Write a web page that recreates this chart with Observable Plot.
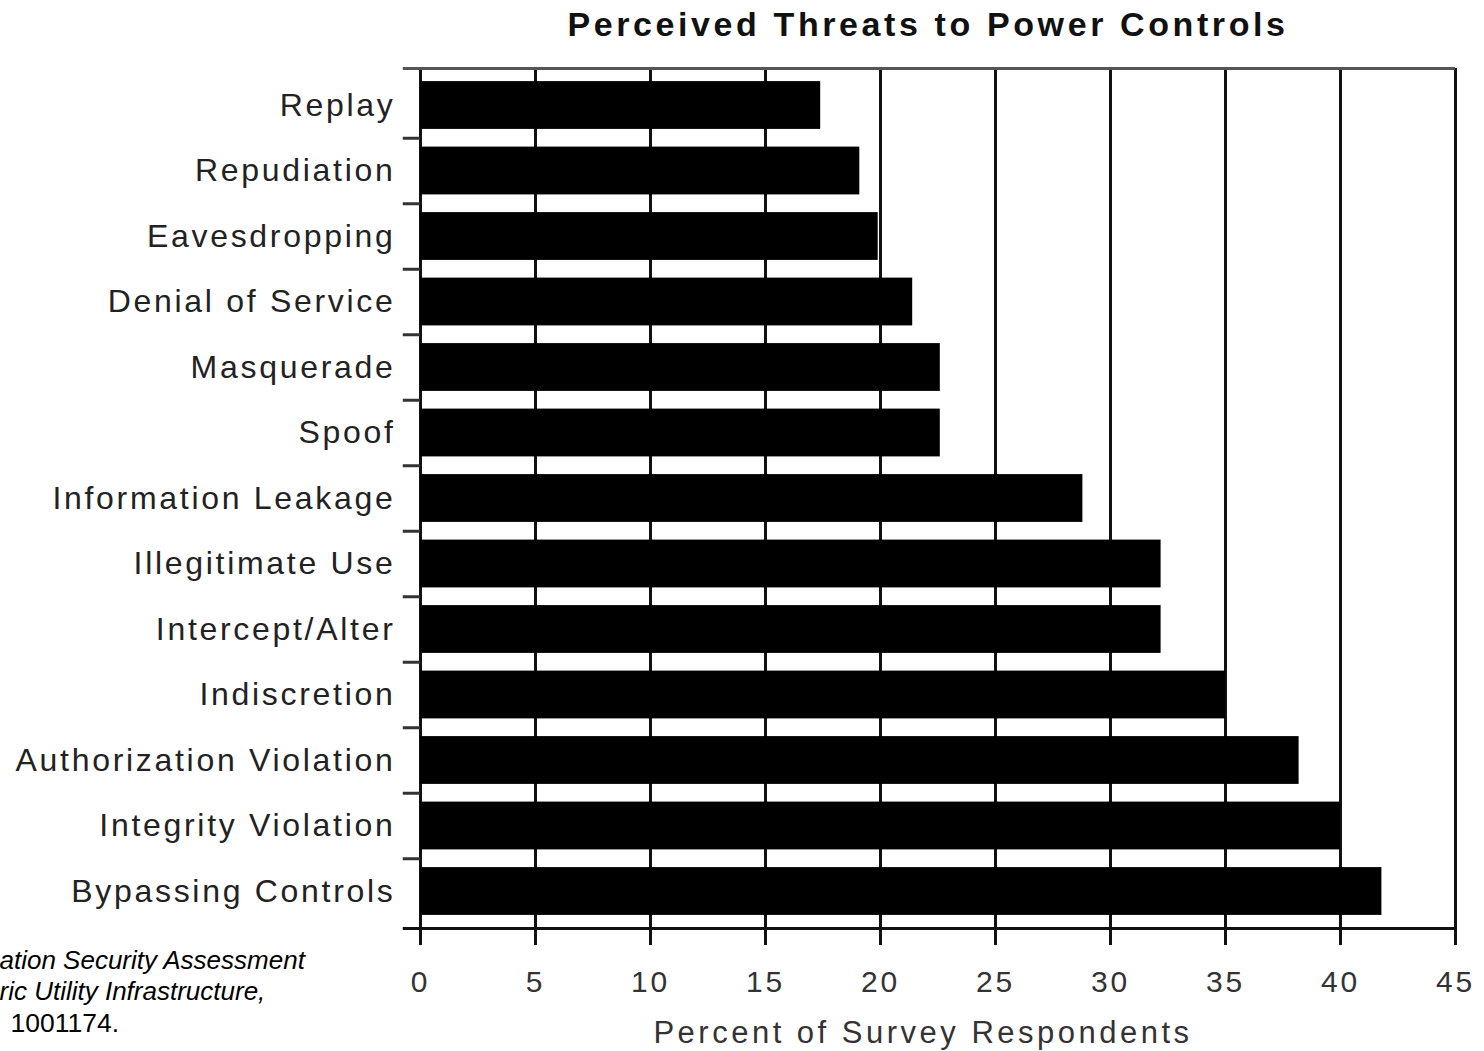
<!DOCTYPE html>
<html><head><meta charset="utf-8">
<script src="https://cdn.jsdelivr.net/npm/d3@7"></script>
<script src="https://cdn.jsdelivr.net/npm/@observablehq/plot@0.6"></script>
<style>
body{margin:0;background:#fff;}
#chart svg text{letter-spacing:2.7px;}
</style></head><body><div id="chart"></div>
<script>
const categories = ["Replay","Repudiation","Eavesdropping","Denial of Service","Masquerade","Spoof","Information Leakage","Illegitimate Use","Intercept/Alter","Indiscretion","Authorization Violation","Integrity Violation","Bypassing Controls"];
const values = [17.4, 19.1, 19.9, 21.4, 22.6, 22.6, 28.8, 32.2, 32.2, 35.0, 38.2, 40.0, 41.8];
const xTicks = [0,5,10,15,20,25,30,35,40,45];
const title = "Perceived Threats to Power Controls";
const xLabel = "Percent of Survey Respondents";
const captionItalic = ["ation Security Assessment", "ric Utility Infrastructure,"];
const captionPlain = ["1001174."];

const data = categories.map((name, i) => ({name, value: values[i]}));
const halfStep = 32.75;

const chart = Plot.plot({
  width: 1484, height: 1051,
  marginLeft: 420, marginRight: 29, marginTop: 68, marginBottom: 123,
  style: {fontFamily: "'Liberation Sans', Arial, sans-serif", background: "#fff", color: "#222"},
  x: {domain: [0, 45]},
  y: {domain: categories, paddingInner: 0.27, paddingOuter: 0.2, round: false},
  marks: [
    Plot.ruleX(xTicks, {stroke: "#111", strokeWidth: 3}),
    Plot.barX(data, {x: "value", y: "name", fill: "#000", insetTop: 0, insetBottom: 0}),
    Plot.ruleY([categories[0]], {x1: -0.75, x2: 45, dy: -37, stroke: "#555", strokeWidth: 3}),
    Plot.ruleY(categories.slice(1), {x1: -0.75, x2: 0, dy: -halfStep, stroke: "#333", strokeWidth: 3}),
    Plot.ruleY([categories[categories.length - 1]], {x1: -0.75, x2: 45, dy: 37, stroke: "#111", strokeWidth: 3}),
    Plot.axisY({tickSize: 0, tickPadding: 25, fontSize: 32, fill: "#222", label: null}),
    Plot.axisX({ticks: xTicks, tickSize: 17, strokeWidth: 3, stroke: "#111", tickPadding: 25, fontSize: 30, fill: "#333", label: null}),
    Plot.text([xLabel], {frameAnchor: "bottom", lineAnchor: "middle", dy: 105, dx: -15, fontSize: 31, fill: "#333"}),
    Plot.text([title], {frameAnchor: "top", lineAnchor: "middle", dy: -43, dx: -10, fontSize: 34, fontWeight: "bold", fill: "#111"}),
    Plot.text([captionItalic[0]], {frameAnchor: "bottom-left", lineAnchor: "middle", dx: -421, dy: 32, textAnchor: "start", fontSize: 26, fontStyle: "italic", fill: "#000"}),
    Plot.text([captionItalic[1]], {frameAnchor: "bottom-left", lineAnchor: "middle", dx: -421, dy: 63, textAnchor: "start", fontSize: 26, fontStyle: "italic", fill: "#000"}),
    Plot.text(captionPlain, {frameAnchor: "bottom-left", lineAnchor: "middle", dx: -410, dy: 95, textAnchor: "start", fontSize: 26.5, fill: "#000"})
  ]
});
const captionSet = new Set([...captionItalic, ...captionPlain]);
d3.select(chart).selectAll("text").each(function() {
  const t = this.textContent;
  if (captionSet.has(t)) this.style.letterSpacing = "0px";
  else if (t === title) this.style.letterSpacing = "3.6px";
  else if (t === xLabel) this.style.letterSpacing = "3.5px";
});
document.getElementById("chart").appendChild(chart);
</script></body></html>
